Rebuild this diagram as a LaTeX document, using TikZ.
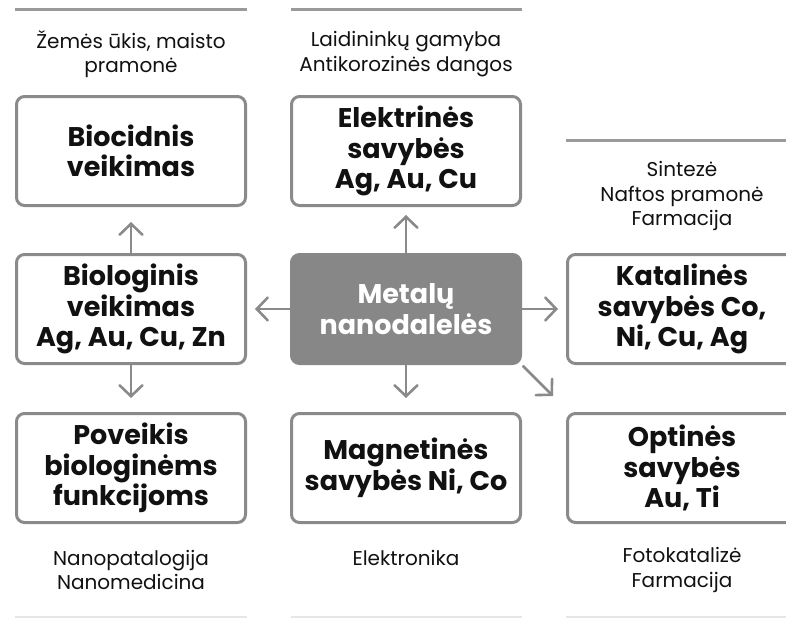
\documentclass[tikz,border=0pt]{standalone}
\usepackage{fontspec}
\setmainfont{Poppins}
\usetikzlibrary{arrows.meta}
\definecolor{bordergray}{HTML}{8A8A8A}
\definecolor{centerfill}{HTML}{878787}
\definecolor{linegray}{HTML}{9A9A9A}
\definecolor{lightline}{HTML}{E6E6E6}
\definecolor{txt}{HTML}{111111}
\begin{document}
\begin{tikzpicture}[x=1pt,y=-1pt,
  box/.style={draw=bordergray, line width=3pt, rounded corners=8pt, fill=white,
    minimum width=229pt, minimum height=109pt, align=center, inner sep=0pt,
    text=txt, font=\bfseries\fontsize{27}{30.5}\selectfont},
  centerbox/.style={box, fill=centerfill, draw=centerfill, text=white},
  lbl/.style={align=center, text=txt, font=\fontsize{20}{24.5}\selectfont},
  arr/.style={draw=bordergray, line width=2.6pt,
    -{Straight Barb[length=11pt,width=23pt,line cap=round]}},
  topline/.style={draw=linegray, line width=3pt},
  botline/.style={draw=lightline, line width=2pt}]
\useasboundingbox (0,0) rectangle (786,618);
\clip (0,0) rectangle (786,618);
% top and bottom rules
\draw[topline] (15,10) -- (247,10);
\draw[topline] (291,10) -- (522,10);
\draw[topline] (566,140) -- (800,140);
\draw[botline] (15,617) -- (247,617);
\draw[botline] (291,617) -- (522,617);
\draw[botline] (566,617) -- (800,617);
% labels
\node[lbl] (l1) at (131,54) {Žemės ūkis, maisto\\pramonė};
\node[lbl] (l2) at (406,54) {Laidininkų gamyba\\Antikorozinės dangos};
\node[lbl] (l3) at (682,196) {Sintezė\\Naftos pramonė\\Farmacija};
\node[lbl] (l4) at (131,570) {Nanopatalogija\\Nanomedicina};
\node[lbl] (l5) at (406,558) {Elektronika};
\node[lbl] (l6) at (682,570) {Fotokatalizė\\Farmacija};
% boxes
\node[box] (bio) at (131,151) {Biocidnis\\veikimas};
\node[box] (ele) at (406,151) {Elektrinės\\savybės\\Ag, Au, Cu};
\node[box] (blg) at (131,309) {Biologinis\\veikimas\\Ag, Au, Cu, Zn};
\node[centerbox] (met) at (406,309) {Metalų\\nanodalelės};
\node[box] (kat) at (682,309) {Katalinės\\savybės Co,\\Ni, Cu, Ag};
\node[box] (pov) at (131,468) {Poveikis\\biologinėms\\funkcijoms};
\node[box] (mag) at (406,468) {Magnetinės\\savybės Ni, Co};
\node[box] (opt) at (682,468) {Optinės\\savybės\\Au, Ti};
% arrows
\coordinate (diag) at (553,396);
\draw[arr, shorten >=15pt] (blg.north) -- (bio.south);
\draw[arr, shorten >=14pt] (blg.south) -- (pov.north);
\draw[arr, shorten >=8pt] (met.west) -- (blg.east);
\draw[arr, shorten >=8pt] (met.east) -- (kat.west);
\draw[arr, shorten >=8pt] (met.north) -- (ele.south);
\draw[arr, shorten >=14pt] (met.south) -- (mag.north);
\draw[arr, shorten <=1pt] (met.south east) -- (diag);
\end{tikzpicture}
\end{document}
